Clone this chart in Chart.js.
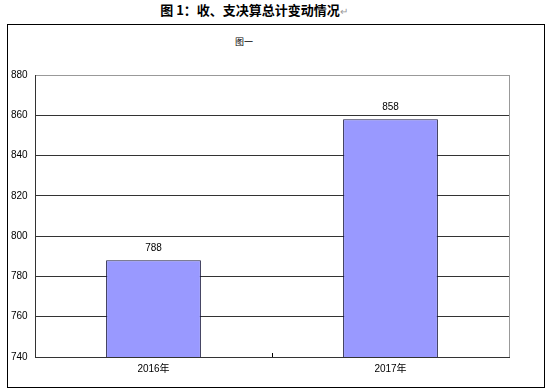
<!DOCTYPE html>
<html>
<head>
<meta charset="utf-8">
<script src="https://cdn.jsdelivr.net/npm/chart.js@4/dist/chart.umd.min.js"></script>
<style>
    body { margin: 0; background: #fff; width: 551px; height: 391px; overflow: hidden; position: relative; }
    #pageTitle {
        position: absolute; left: 0; top: 2px; width: 508px; text-align: center;
        font: bold 13px "Noto Sans CJK SC", sans-serif; color: #000; line-height: 16px;
    }
    #pageTitle span { color: #999; font-weight: normal; font-size: 10px; }
    #frame {
        position: absolute; left: 7px; top: 24px; width: 536px; height: 362px;
        border: 1px solid #000;
    }
    #chartTitle {
        position: absolute; left: 0; top: 35px; width: 488px; text-align: center;
        font: 9px "Noto Sans CJK SC", sans-serif; color: #000; line-height: 14px;
    }
    #chartWrap { position: absolute; left: 0; top: 0; width: 551px; height: 391px; }
</style>
</head>
<body>
<div id="pageTitle">图 1：收、支决算总计变动情况<span>↵</span></div>
<div id="frame"></div>
<div id="chartTitle">图一</div>
<div id="chartWrap"><canvas id="budgetChart" width="551" height="391"></canvas></div>
<script>
// chart data
const categories = ["2016年", "2017年"];
const totals = [788, 858];
const yTicks = [740, 760, 780, 800, 820, 840, 860, 880];

const labelFont = "10px 'Liberation Sans', 'Noto Sans CJK SC', sans-serif";

// value labels, right border and the middle tick mark
const extras = {
    id: "extras",
    afterDraw(chart) {
        const ctx = chart.ctx;
        const area = chart.chartArea;
        const x = chart.scales.x;
        const meta = chart.getDatasetMeta(0);
        ctx.save();
        ctx.strokeStyle = "#999";
        ctx.lineWidth = 1;
        ctx.beginPath();
        ctx.moveTo(Math.round(area.right) + 0.5, area.top);
        ctx.lineTo(Math.round(area.right) + 0.5, area.bottom);
        ctx.stroke();

        const mid = Math.round((x.getPixelForValue(0) + x.getPixelForValue(1)) / 2) + 0.5;
        ctx.strokeStyle = "#000";
        ctx.beginPath();
        ctx.moveTo(mid, area.bottom);
        ctx.lineTo(mid, area.bottom - 4);
        ctx.stroke();

        ctx.fillStyle = "#000";
        ctx.font = labelFont;
        ctx.textAlign = "center";
        ctx.textBaseline = "middle";
        meta.data.forEach(function (bar, i) {
            ctx.fillText(totals[i], bar.x, bar.y - 12);
        });
        ctx.restore();
    }
};

new Chart(document.getElementById("budgetChart").getContext("2d"), {
    type: "bar",
    data: {
        labels: categories,
        datasets: [{
            data: totals,
            backgroundColor: "#9999FF",
            borderColor: "#1a1a40",
            borderWidth: 1,
            barPercentage: 0.4,
            categoryPercentage: 1
        }]
    },
    options: {
        responsive: false,
        animation: false,
        layout: { padding: { left: 11, right: 42, top: 75, bottom: 14 } },
        plugins: { legend: { display: false }, tooltip: { enabled: false } },
        scales: {
            y: {
                min: 740,
                max: 880,
                afterBuildTicks: function (scale) {
                    scale.ticks = yTicks.map(function (v) { return { value: v }; });
                },
                afterFit: function (scale) { scale.width = 24; },
                ticks: {
                    color: "#000",
                    font: { family: "'Liberation Sans', sans-serif", size: 10 },
                    crossAlign: "far",
                    padding: 0
                },
                grid: {
                    drawTicks: false,
                    color: function (c) { return c.tick && c.tick.value === 880 ? "#999" : "#333"; }
                },
                border: { color: "#333" }
            },
            x: {
                afterFit: function (scale) { scale.height = 20; },
                ticks: {
                    color: "#000",
                    font: { family: "'Liberation Sans', 'Noto Sans CJK SC', sans-serif", size: 10 },
                    padding: 6
                },
                grid: { display: false, drawTicks: false },
                border: { color: "#333" }
            }
        }
    },
    plugins: [extras]
});
</script>
</body>
</html>
